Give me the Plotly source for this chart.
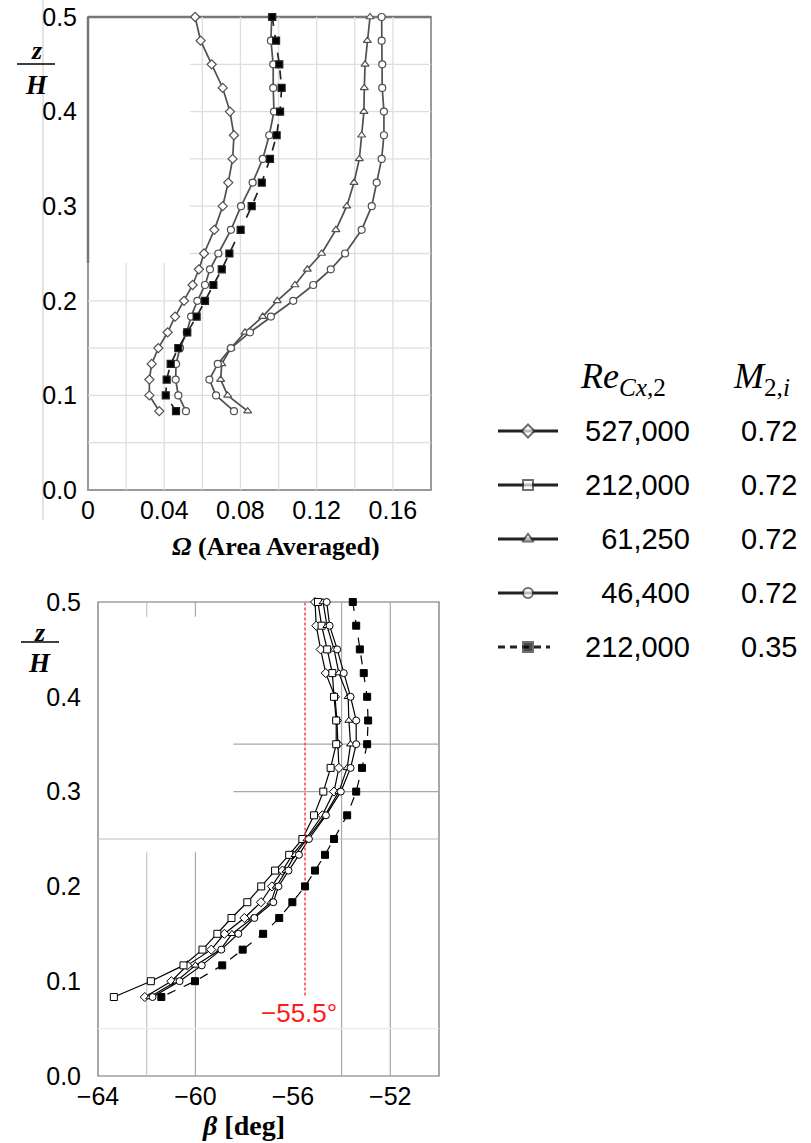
import plotly.graph_objects as go

W, H = 811, 1143

# ---------------- data ----------------
Z = [0.5, 0.475, 0.45, 0.425, 0.4, 0.375, 0.35, 0.325, 0.3, 0.275, 0.25,
     0.2333, 0.2167, 0.2, 0.1833, 0.1667, 0.15, 0.1333, 0.1167, 0.1, 0.0833]

# Omega (area averaged), top panel
OMEGA_527000 = [0.0562, 0.0591, 0.0649, 0.0707, 0.0745, 0.0766, 0.0759, 0.0736, 0.0707, 0.0663, 0.0609,
                0.0582, 0.0549, 0.0504, 0.0457, 0.0418, 0.0369, 0.0334, 0.0322, 0.0322, 0.0374]
OMEGA_212000 = [0.0964, 0.0960, 0.0972, 0.0972, 0.0976, 0.0951, 0.0917, 0.0864, 0.0803, 0.0750, 0.0684,
                0.0640, 0.0614, 0.0574, 0.0541, 0.0518, 0.0483, 0.0462, 0.0460, 0.0474, 0.0514]
OMEGA_61250 = [0.1480, 0.1466, 0.1454, 0.1450, 0.1448, 0.1436, 0.1424, 0.1396, 0.1358, 0.1301, 0.1226,
               0.1151, 0.1086, 0.0993, 0.0917, 0.0824, 0.0750, 0.0702, 0.0696, 0.0733, 0.0838]
OMEGA_46400 = [0.1541, 0.1541, 0.1544, 0.1544, 0.1553, 0.1553, 0.1541, 0.1515, 0.1489, 0.1436, 0.1349,
               0.1274, 0.1182, 0.1077, 0.0960, 0.0850, 0.0750, 0.0681, 0.0637, 0.0672, 0.0766]
OMEGA_212000_M035 = [0.0967, 0.0987, 0.1004, 0.1016, 0.1008, 0.0990, 0.0955, 0.0912, 0.0859, 0.0801, 0.0742,
                     0.0702, 0.0658, 0.0614, 0.0570, 0.0521, 0.0474, 0.0434, 0.0413, 0.0408, 0.0462]

# beta [deg], bottom panel
BETA_527000 = [-55.09, -55.04, -54.86, -54.65, -54.27, -54.19, -54.15, -54.11, -54.31, -54.79, -55.47,
               -56.02, -56.43, -56.86, -57.31, -57.99, -58.81, -59.35, -60.33, -60.99, -62.08]
BETA_212000 = [-54.97, -54.82, -54.59, -54.38, -54.31, -54.22, -54.22, -54.45, -54.75, -55.13, -55.61,
               -56.15, -56.73, -57.30, -57.87, -58.52, -59.10, -59.71, -60.49, -61.83, -63.35]
BETA_61250 = [-54.76, -54.60, -54.31, -54.11, -53.73, -53.70, -53.63, -53.77, -54.11, -54.68, -55.42,
              -55.91, -56.28, -56.68, -56.90, -57.65, -58.50, -58.97, -60.00, -60.78, -61.87]
BETA_46400 = [-54.61, -54.49, -54.18, -53.91, -53.63, -53.40, -53.40, -53.63, -54.03, -54.64, -55.34,
              -55.75, -56.18, -56.59, -56.80, -57.58, -58.24, -58.94, -59.74, -60.65, -61.76]
BETA_212000_M035 = [-53.54, -53.40, -53.25, -53.09, -52.95, -52.91, -52.95, -53.16, -53.40, -53.77, -54.31,
                    -54.68, -55.09, -55.50, -56.02, -56.56, -57.22, -58.06, -58.90, -60.02, -61.40]

BETA_REF = -55.5
BETA_REF_Z = [0.085, 0.5]

LEGEND_RE = ["527,000", "212,000", "\u200761,250", "\u200746,400", "212,000"]
LEGEND_M = ["0.72", "0.72", "0.72", "0.72", "0.35"]

OMEGA_TICKS = [0, 0.04, 0.08, 0.12, 0.16]
BETA_TICKS = [-64, -60, -56, -52]

# ---------------- helpers ----------------
def px(x):
    return x / W

def py(y):
    return 1 - y / H

SANS = "Liberation Sans, Arial, sans-serif"
SERIF = "Liberation Serif, Times New Roman, serif"

fig = go.Figure()

# ---------------- top panel ----------------
top_series = [
    (OMEGA_527000, "diamond", "solid", "white"),
    (OMEGA_212000, "circle", "solid", "white"),
    (OMEGA_61250, "triangle-up", "solid", "white"),
    (OMEGA_46400, "circle", "solid", "white"),
    (OMEGA_212000_M035, "square", "dash", "black"),
]
for vals, sym, dash, fill in top_series:
    col = "#222" if fill == "black" else "#505050"
    fig.add_trace(go.Scatter(
        x=vals, y=Z, xaxis="x", yaxis="y", mode="lines+markers", cliponaxis=False,
        line=dict(color=col, width=1.7, dash=dash),
        marker=dict(symbol=sym, size=7, color=fill, line=dict(color=col, width=1.2)),
        showlegend=False, hoverinfo="skip"))

# ---------------- bottom panel ----------------
bot_series = [
    (BETA_527000, "diamond", "solid", "white"),
    (BETA_212000, "square", "solid", "white"),
    (BETA_61250, "triangle-up", "solid", "white"),
    (BETA_46400, "circle", "solid", "white"),
]
for vals, sym, dash, fill in bot_series:
    fig.add_trace(go.Scatter(
        x=vals, y=Z, xaxis="x2", yaxis="y2", mode="lines+markers", cliponaxis=False,
        line=dict(color="black", width=1.2, dash=dash),
        marker=dict(symbol=sym, size=7, color=fill, line=dict(color="black", width=1)),
        showlegend=False, hoverinfo="skip"))

fig.add_trace(go.Scatter(
    x=[BETA_REF, BETA_REF], y=BETA_REF_Z, xaxis="x2", yaxis="y2", mode="lines",
    line=dict(color="#ff4040", width=1.5, dash="3px,2px"), showlegend=False, hoverinfo="skip"))

fig.add_trace(go.Scatter(
    x=BETA_212000_M035, y=Z, xaxis="x2", yaxis="y2", mode="lines+markers", cliponaxis=False,
    line=dict(color="black", width=1.2, dash="dash"),
    marker=dict(symbol="square", size=7, color="black", line=dict(color="black", width=1)),
    showlegend=False, hoverinfo="skip"))

# ---------------- legend (hidden pixel axis) ----------------
leg_syms = ["diamond", "square", "triangle-up", "circle", "square"]
leg_fill = ["white", "white", "white", "white", "black"]
row0, drow = 431, 54
annotations = []
for i in range(5):
    yy = row0 + i * drow
    x_end = 550 if i == 4 else 558
    fig.add_trace(go.Scatter(
        x=[498, 528, x_end], y=[yy, yy, yy], xaxis="x3", yaxis="y3", mode="lines+markers",
        line=dict(color="#222", width=3, dash="7px,5px" if i == 4 else "solid"),
        marker=dict(symbol=leg_syms[i], size=[0, 10, 0], color=leg_fill[i],
                    line=dict(color="#333", width=2)),
        showlegend=False, hoverinfo="skip"))
    annotations.append(dict(x=px(692), y=py(yy), xref="paper", yref="paper", text=LEGEND_RE[i],
                            xanchor="right", yanchor="middle", showarrow=False,
                            font=dict(family=SANS, size=29, color="black")))
    annotations.append(dict(x=px(799), y=py(yy), xref="paper", yref="paper", text=LEGEND_M[i],
                            xanchor="right", yanchor="middle", showarrow=False,
                            font=dict(family=SANS, size=29, color="black")))

annotations.append(dict(x=px(578), y=py(378), xref="paper", yref="paper",
                        text="<i>Re</i><sub><i>Cx</i>,2</sub>", xanchor="left", yanchor="middle",
                        showarrow=False, font=dict(family=SERIF, size=36, color="black")))
annotations.append(dict(x=px(731), y=py(378), xref="paper", yref="paper",
                        text="<i>M</i><sub>2,<i>i</i></sub>", xanchor="left", yanchor="middle",
                        showarrow=False, font=dict(family=SERIF, size=36, color="black")))

# axis titles
annotations.append(dict(x=px(276), y=py(546), xref="paper", yref="paper",
                        text="<b><i>Ω</i> (Area Averaged)</b>", xanchor="center", yanchor="middle",
                        showarrow=False, font=dict(family=SERIF, size=26, color="black")))
annotations.append(dict(x=px(243), y=py(1125), xref="paper", yref="paper",
                        text="<b><i>β</i> [deg]</b>", xanchor="center", yanchor="middle",
                        showarrow=False, font=dict(family=SERIF, size=28, color="black")))
# z/H labels
for (zy, hy, cx) in [(50, 85, 36), (632, 663, 39)]:
    annotations.append(dict(x=px(cx + 1), y=py(zy), xref="paper", yref="paper",
                            text="<b><i>z</i></b>", xanchor="center", yanchor="middle",
                            showarrow=False, font=dict(family=SERIF, size=26, color="black")))
    annotations.append(dict(x=px(cx), y=py(hy), xref="paper", yref="paper",
                            text="<b><i>H</i></b>", xanchor="center", yanchor="middle",
                            showarrow=False, font=dict(family=SERIF, size=27, color="black")))

# red label
annotations.append(dict(x=BETA_REF, y=0.066, xref="x2", yref="y2", text="\u221255.5\u00b0",
                        xanchor="center", yanchor="middle", xshift=-6, showarrow=False,
                        font=dict(family=SANS, size=26, color="#ff1a1a")))

# ---------------- shapes (grid, frames) ----------------
shapes = []
# fraction bars of z/H
for (ly, lx0, lx1) in [(64, 17, 55), (642, 21, 59)]:
    shapes.append(dict(type="line", xref="paper", yref="paper", x0=px(lx0), x1=px(lx1),
                       y0=py(ly), y1=py(ly), line=dict(color="black", width=1.5)))

grid_top = "#dedede"
patch_x, patch_z = 0.0535, 0.24
for gx in [0.02, 0.04, 0.06, 0.08, 0.10, 0.12, 0.14, 0.16]:
    y1 = patch_z if gx < patch_x else 0.5
    shapes.append(dict(type="line", xref="x", yref="y", x0=gx, x1=gx, y0=0, y1=y1,
                       line=dict(color=grid_top, width=1.3), layer="below"))
for gz in [0.05, 0.1, 0.15, 0.2, 0.25, 0.3, 0.35, 0.4, 0.45]:
    x0 = patch_x if gz > patch_z else 0
    shapes.append(dict(type="line", xref="x", yref="y", x0=x0, x1=0.18, y0=gz, y1=gz,
                       line=dict(color=grid_top, width=1.3), layer="below"))
# top frame
shapes.append(dict(type="rect", xref="x domain", yref="y domain", x0=0, x1=1, y0=0, y1=1,
                   line=dict(color="#9a9a9a", width=2), layer="below"))
shapes.append(dict(type="line", xref="x domain", yref="y domain", x0=0, x1=1, y0=1, y1=1,
                   line=dict(color="#777", width=2.5), layer="below"))
shapes.append(dict(type="line", xref="x domain", yref="y", x0=0, x1=0, y0=patch_z, y1=0.5,
                   line=dict(color="#777", width=2.5), layer="below"))
# stray thin line through top y labels
shapes.append(dict(type="line", xref="paper", yref="paper", x0=px(43), x1=px(43), y0=py(520), y1=py(0),
                   line=dict(color="#c8c8c8", width=1), layer="below"))

# bottom grid
for gx, z0, z1, c in [(-54, 0, 0.5, "#a8a8a8"), (-52, 0, 0.5, "#a8a8a8"),
                      (-62, 0, 0.236, "#c4c4c4"), (-60, 0, 0.236, "#a8a8a8"),
                      (-62, 0.4845, 0.5, "#c4c4c4"), (-60, 0.4845, 0.5, "#a8a8a8")]:
    shapes.append(dict(type="line", xref="x2", yref="y2", x0=gx, x1=gx, y0=z0, y1=z1,
                       line=dict(color=c, width=1.2), layer="below"))
for gz, x0, c in [(0.35, -58.44, "#a8a8a8"), (0.3, -58.44, "#a8a8a8"),
                  (0.25, -64, "#bdbdbd"), (0.05, -64, "#ececec")]:
    shapes.append(dict(type="line", xref="x2", yref="y2", x0=x0, x1=-50, y0=gz, y1=gz,
                       line=dict(color=c, width=1.2), layer="below"))
shapes.append(dict(type="rect", xref="x2 domain", yref="y2 domain", x0=0, x1=1, y0=0, y1=1,
                   line=dict(color="#6e6e6e", width=1.2), layer="below"))

tickfont = dict(family=SANS, size=25, color="black")
axis_common = dict(showgrid=False, zeroline=False, showline=False, ticks="", tickfont=tickfont,
                   automargin=False)

fig.update_layout(
    width=W, height=H, margin=dict(l=0, r=0, t=0, b=0, pad=0, autoexpand=False),
    paper_bgcolor="white", plot_bgcolor="rgba(0,0,0,0)",
    xaxis=dict(domain=[px(88), px(431)], anchor="y", range=[0, 0.18], tickvals=OMEGA_TICKS,
               ticklabelstandoff=3, **axis_common),
    yaxis=dict(domain=[py(490), py(17)], anchor="x", range=[0, 0.5], dtick=0.1, tickformat=".1f",
               ticklabelstandoff=10, **axis_common),
    xaxis2=dict(domain=[px(98), px(439)], anchor="y2", range=[-64, -50], tickvals=BETA_TICKS,
                ticklabelstandoff=3, **axis_common),
    yaxis2=dict(domain=[py(1076), py(602)], anchor="x2", range=[0, 0.5], dtick=0.1, tickformat=".1f",
                ticklabelstandoff=16, **axis_common),
    xaxis3=dict(domain=[0, 1], anchor="y3", range=[0, W], visible=False, fixedrange=True,
                automargin=False),
    yaxis3=dict(domain=[0, 1], anchor="x3", range=[H, 0], visible=False, fixedrange=True,
                automargin=False),
    shapes=shapes, annotations=annotations, showlegend=False,
)

fig.write_html("out.html", config={"displayModeBar": False},
               post_script="document.body.style.margin='0';")
